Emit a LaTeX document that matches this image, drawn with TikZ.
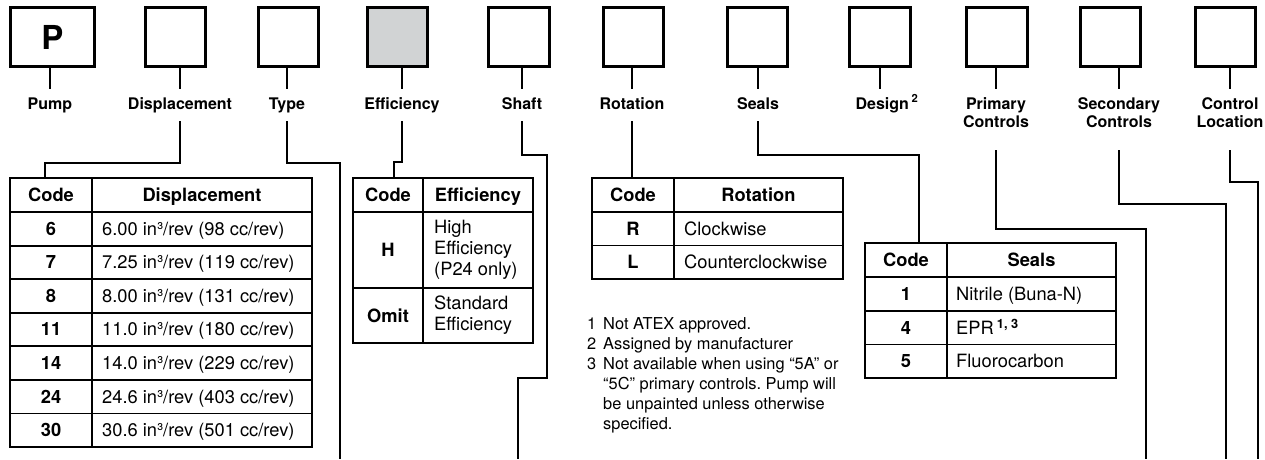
\documentclass[tikz,border=0pt]{standalone}
\usepackage{fontspec}
\setmainfont{TeX Gyre Heros}
\usepackage{tikz}
\usetikzlibrary{calc}
\frenchspacing
\definecolor{effgray}{RGB}{209,211,212}
\tikzset{codebox/.style={draw, line width=2.6pt, minimum width=60.5pt, minimum height=59.5pt, inner sep=0pt}}
\tikzset{fieldlbl/.style={font=\bfseries\fontsize{16}{18}\selectfont, align=center, anchor=base, inner xsep=1pt, inner ysep=8pt, text height=12pt, text depth=4pt}}
\tikzset{twoline/.style={text height=30pt, text depth=15pt}}
\tikzset{wire/.style={line width=2pt}}
\tikzset{grid/.style={line width=1.8pt}}
\tikzset{cell/.style={font=\fontsize{18.3}{21}\selectfont, inner sep=0pt, anchor=base west, align=left}}
\tikzset{codecell/.style={font=\bfseries\fontsize{18.3}{21}\selectfont, inner sep=0pt, anchor=base}}
\tikzset{note/.style={font=\fontsize{16.4}{20}\selectfont, inner sep=0pt, anchor=base west, align=left}}

\begin{document}
\begin{tikzpicture}[x=1pt, y=-1pt]
\useasboundingbox (0,0) rectangle (1265,459);
% code boxes
\node[codebox, minimum width=84.5pt] (bP) at (52.5,37) {\fontsize{33}{33}\selectfont\bfseries P};
\node[codebox] (bD) at (175.5,37) {};
\node[codebox] (bT) at (288.5,37) {};
\node[codebox, fill=effgray] (bE) at (397.5,37) {};
\node[codebox] (bS) at (519,37) {};
\node[codebox] (bR) at (633.5,37) {};
\node[codebox] (bSe) at (757.5,37) {};
\node[codebox] (bDe) at (880,37) {};
\node[codebox] (bPr) at (997,37) {};
\node[codebox] (bSc) at (1110.5,37) {};
\node[codebox] (bCL) at (1225.5,37) {};
% field names (two-line ones sit on their second line)
\node[fieldlbl] (lP) at (50,109) {Pump};
\node[fieldlbl] (lD) at (180,109) {Displacement};
\node[fieldlbl] (lT) at (287,109) {Type};
\node[fieldlbl] (lE) at (402,109) {Efficiency};
\node[fieldlbl] (lS) at (522,109) {Shaft};
\node[fieldlbl] (lR) at (632,109) {Rotation};
\node[fieldlbl] (lSe) at (758,109) {Seals};
\node[fieldlbl] (lDe) at (887,109) {Design\,\textsuperscript{2}};
\node[fieldlbl, twoline] (lPr) at (996,127) {Primary\\Controls};
\node[fieldlbl, twoline] (lSc) at (1119,127) {Secondary\\Controls};
\node[fieldlbl, twoline] (lCL) at (1230,127) {Control\\Location};
% short stems under the boxes
\foreach \b/\l in {bP/lP, bD/lD, bT/lT, bE/lE, bS/lS, bR/lR, bSe/lSe, bPr/lPr, bSc/lSc, bCL/lCL}
  \draw[wire] (\b.south -| \l.north) -- (\l.north);
\draw[wire] (bDe.south) -- (bDe.south |- lDe.north);
% where the leads end
\coordinate (cD) at (45,178);
\coordinate (cE) at (394,178);
\coordinate (cR) at (632,178);
\coordinate (cSe) at (919,243);
\coordinate (kS) at (547,378);
\coordinate (eT) at (340,459);
\coordinate (eS) at (518,459);
\coordinate (ePr) at (1146,459);
\coordinate (eSc) at (1226,459);
\coordinate (eCL) at (1258,459);
% leads
\draw[wire] (lD.south) -- ++(0,42) -| (cD);
\draw[wire] (lT.south) -- ++(0,42) -| (eT);
\draw[wire] (lE.south) -- ++(0,41) -| (cE);
\draw[wire] (lS.south) -- ++(0,34) -| (kS) -| (eS);
\draw[wire] (lR.south) -- (cR);
\draw[wire] (lSe.south) -- ++(0,34) -| (cSe);
\draw[wire] (lPr.south) -- ++(0,79) -| (ePr);
\draw[wire] (lSc.south) -- ++(0,54) -| (eSc);
\draw[wire] (lCL.south) -- ++(0,32) -| (eCL);
% displacement table
\draw[grid] (10,178) rectangle (312,447) (92,178) -- (92,447);
\foreach \y in {212,245.6,279.1,312.7,346.3,379.9,413.4}
  \draw[grid] (10,\y) -- (312,\y);
\node[codecell] (dh1) at (51,201.5) {Code};
\node[codecell] (dh2) at (202,201.5) {Displacement};
\foreach \c/\v [count=\i] in {6/{6.00 in³/rev (98 cc/rev)}, 7/{7.25 in³/rev (119 cc/rev)}, 8/{8.00 in³/rev (131 cc/rev)}, 11/{11.0 in³/rev (180 cc/rev)}, 14/{14.0 in³/rev (229 cc/rev)}, 24/{24.6 in³/rev (403 cc/rev)}, 30/{30.6 in³/rev (501 cc/rev)}} {
  \node[codecell] (dc\i) at (51,{212+33.57*\i-10.3}) {\c};
  \node[cell] (dv\i) at (102,{212+33.57*\i-10.3}) {\v};
}
% efficiency table
\draw[grid] (353,178) rectangle (533,343) (423,178) -- (423,343) (353,212) -- (533,212) (353,288) -- (533,288);
\node[codecell] (eh1) at (388,201.5) {Code};
\node[codecell] (eh2) at (478,201.5) {Efficiency};
\node[codecell] (ec1) at (388,256.5) {H};
\node[cell, anchor=west] (ev1) at (434,250) {High\\Efficiency\\(P24 only)};
\node[codecell] (ec2) at (388,322) {Omit};
\node[cell, anchor=west] (ev2) at (434,315.5) {Standard\\Efficiency};
% rotation table
\draw[grid] (592,178) rectangle (843,279) (674,178) -- (674,279) (592,212) -- (843,212) (592,245.5) -- (843,245.5);
\node[codecell] (rh1) at (633,201.5) {Code};
\node[codecell] (rh2) at (758.5,201.5) {Rotation};
\node[codecell] (rc1) at (633,235.2) {R};
\node[cell] (rv1) at (684,235.2) {Clockwise};
\node[codecell] (rc2) at (633,268.7) {L};
\node[cell] (rv2) at (684,268.7) {Counterclockwise};
% seals table
\draw[grid] (865,243) rectangle (1116,378) (947,243) -- (947,378);
\foreach \y in {277,311,344.5}
  \draw[grid] (865,\y) -- (1116,\y);
\node[codecell] (sh1) at (906,266.5) {Code};
\node[codecell] (sh2) at (1031.5,266.5) {Seals};
\node[codecell] (sc1) at (906,300.5) {1};
\node[cell] (sv1) at (956,300.5) {Nitrile (Buna-N)};
\node[codecell] (sc2) at (906,334.5) {4};
\node[cell] (sv2) at (956,334.5) {EPR\,\textsuperscript{\bfseries 1, 3}};
\node[codecell] (sc3) at (906,367.5) {5};
\node[cell] (sv3) at (956,367.5) {Fluorocarbon};
% footnotes (the last one sits on its last line)
\node[note] (n1) at (587,329) {1};
\node[note] (f1) at (603,329) {Not ATEX approved.};
\node[note] (n2) at (587,349) {2};
\node[note] (f2) at (603,349) {Assigned by manufacturer};
\node[note] (n3) at (587,369) {3};
\node[note] (f3) at (603,429) {Not available when using “5A” or\\“5C” primary controls. Pump will\\be unpainted unless otherwise\\specified.};
\end{tikzpicture}
\end{document}
